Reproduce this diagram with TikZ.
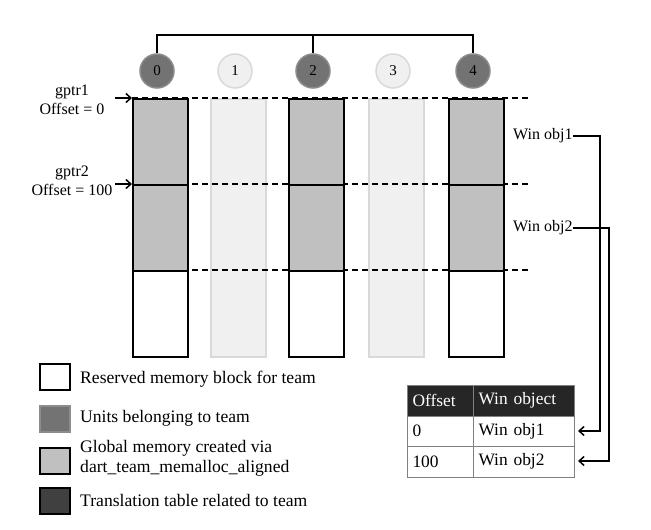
\documentclass[tikz,border=0pt]{standalone}
\usepackage{fontspec}
\setmainfont{Liberation Serif}
\usetikzlibrary{arrows.meta}

\definecolor{unitfill}{HTML}{737373}
\definecolor{memfill}{HTML}{C0C0C0}
\definecolor{idlefill}{HTML}{F0F0F0}
\definecolor{tablehead}{HTML}{262626}

\tikzset{
  unit/.style={circle,draw=black!45,line width=1.5pt,fill=unitfill,minimum size=34pt,inner sep=0pt,font=\fontsize{15}{17}\selectfont},
  idle/.style={circle,draw=black!15,line width=1.5pt,fill=idlefill,minimum size=34pt,inner sep=0pt,font=\fontsize{15}{17}\selectfont},
  memblock/.style={draw,line width=1.5pt,minimum width=55pt,minimum height=86pt,anchor=north west,inner sep=0pt},
  idleblock/.style={draw=black!15,line width=1.5pt,fill=idlefill,minimum width=55pt,minimum height=258pt,anchor=north west,inner sep=0pt},
  keybox/.style={draw,line width=1.5pt,minimum width=30pt,minimum height=26pt,anchor=north west,inner sep=0pt},
  keytext/.style={anchor=west,align=left,inner sep=0pt,font=\fontsize{17.6}{20}\selectfont},
  cell/.style={draw=black!50,line width=1pt,anchor=north west,minimum height=30.5pt,inner xsep=5pt,align=left,font=\fontsize{17.4}{20}\selectfont},
  ptr/.style={-{Straight Barb[length=5pt,width=9pt]},line width=1.5pt}
}

\begin{document}
\begin{tikzpicture}[x=1pt,y=-1pt,font=\fontsize{16}{19}\selectfont]
  \useasboundingbox (0,0) rectangle (651,530);

  % idle units 1 and 3
  \foreach \i/\x in {1/210,3/368} {
    \node[idleblock] (c\i) at (\x,98) {};
    \node[idle] (u\i) at (\x+25,71) {\i};
  }

  % dashed offset lines
  \draw[dashed,line width=1.5pt,dash pattern=on 6pt off 4pt] (132,98) coordinate (d1) -- (530,98) coordinate (e1);
  \draw[dashed,line width=1.5pt,dash pattern=on 6pt off 4pt] (132,184) coordinate (d2) -- (530,184) coordinate (e2);
  \draw[dashed,line width=1.5pt,dash pattern=on 6pt off 4pt] (132,270) coordinate (d3) -- (530,270) coordinate (e3);

  % team units 0, 2, 4
  \foreach \i/\x in {0/132,2/288,4/448} {
    \node[memblock,fill=memfill] (c\i a) at (\x,98) {};
    \node[memblock,fill=memfill] (c\i b) at (\x,184) {};
    \node[memblock,fill=white]   (c\i c) at (\x,270) {};
    \node[unit] (u\i) at (\x+25,71) {\i};
  }

  % team bracket
  \coordinate (top) at (313,35);
  \draw[line width=1.5pt] (u0.north) |- (top) -| (u4.north);
  \draw[line width=1.5pt] (u2.north) -- (top);

  % global pointers
  \node[align=center,inner sep=0pt] (g1) at (72,100) {gptr1\\Offset = 0};
  \node[align=center,inner sep=0pt] (g2) at (72,181) {gptr2\\Offset = 100};
  \coordinate (a1) at (115,98);
  \coordinate (a2) at (115,184);
  \draw[ptr] (a1) -- (c0a.north west);
  \draw[ptr] (a2) -- (c0b.north west);

  % window objects
  \node[anchor=west,inner sep=0pt] (w1) at (513,136) {Win obj1};
  \node[anchor=west,inner sep=0pt] (w2) at (513,228) {Win obj2};

  % translation table
  \node[cell,fill=tablehead,text=white,minimum width=66pt,text width=56pt] (t00) at (407,385) {Offset};
  \node[cell,fill=tablehead,text=white,minimum width=101pt,text width=91pt] (t01) at (473,385) {Win object};
  \node[cell,minimum width=66pt,text width=56pt] (t10) at (407,415.5) {0};
  \node[cell,minimum width=101pt,text width=91pt] (t11) at (473,415.5) {Win obj1};
  \node[cell,minimum width=66pt,text width=56pt] (t20) at (407,446) {100};
  \node[cell,minimum width=101pt,text width=91pt] (t21) at (473,446) {Win obj2};

  \coordinate (r1) at (600,431);
  \coordinate (r2) at (609,461);
  \draw[ptr,shorten >=3pt] (w1.east) -| (r1) -- (r1 -| t11.east);
  \draw[ptr,shorten >=3pt] (w2.east) -| (r2) -- (r2 -| t21.east);

  % legend
  \node[keybox,fill=white] (k1) at (39,363) {};
  \node[keybox,fill=unitfill,draw=black!45] (k2) at (39,405) {};
  \node[keybox,fill=memfill] (k3) at (39,447) {};
  \node[keybox,fill=black!75] (k4) at (39,487) {};
  \node[keytext] (l1) at (80,379) {Reserved memory block for team};
  \node[keytext] (l2) at (80,418) {Units belonging to team};
  \node[keytext] (l3) at (80,458) {Global memory created via\\dart\_team\_memalloc\_aligned};
  \node[keytext] (l4) at (80,500) {Translation table related to team};
\end{tikzpicture}
\end{document}
